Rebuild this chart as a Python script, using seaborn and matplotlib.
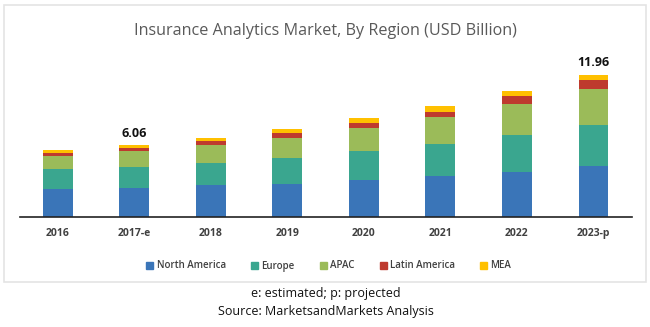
import matplotlib
matplotlib.use("Agg")
import matplotlib.pyplot as plt
import matplotlib.patches as mpatches
import seaborn as sns
import pandas as pd
import numpy as np

years = ["2016", "2017-e", "2018", "2019", "2020", "2021", "2022", "2023-p"]
regions = ["North America", "Europe", "APAC", "Latin America", "MEA"]
north_america = [2.35, 2.44, 2.66, 2.81, 3.11, 3.45, 3.82, 4.29]
europe = [1.65, 1.76, 1.87, 2.18, 2.47, 2.66, 3.08, 3.45]
apac = [1.12, 1.38, 1.55, 1.65, 1.90, 2.29, 2.58, 3.05]
latin_america = [0.25, 0.20, 0.34, 0.42, 0.42, 0.45, 0.65, 0.72]
mea = [0.28, 0.28, 0.22, 0.37, 0.42, 0.45, 0.45, 0.45]
labels = {1: "6.06", 7: "11.96"}
colors = ["#3a75b8", "#3aa68f", "#9bbb59", "#be3a2e", "#ffc000"]

sns.set_style("white")
plt.rcParams["font.family"] = ["Open Sans", "DejaVu Sans"]

series = [north_america, europe, apac, latin_america, mea]
df = pd.DataFrame({"year": years})
cum = np.zeros(len(years))
for name, vals in zip(regions, series):
    cum = cum + np.array(vals)
    df[name] = cum

fig = plt.figure(figsize=(6.5, 3.27), dpi=100)
# light border box
fig.patches.append(mpatches.Rectangle((4 / 650, 1 - 282 / 327), 642 / 650, 277 / 327,
                                      transform=fig.transFigure, fill=False,
                                      edgecolor="#e4e4e4", linewidth=1.2))
ax = fig.add_axes([19.5 / 650, 1 - 217 / 327, 612.2 / 650, 157 / 327])

for name, col in reversed(list(zip(regions, colors))):
    sns.barplot(data=df, x="year", y=name, color=col, width=0.39,
                saturation=1, ax=ax, order=years, linewidth=0)

ax.set_xlim(-0.5, 7.5)
ax.set_ylim(0, 13.19)
ax.set_xlabel("")
ax.set_ylabel("")
ax.set_yticks([])
for s in ["top", "left", "right"]:
    ax.spines[s].set_visible(False)
ax.spines["bottom"].set_color("#222222")
ax.spines["bottom"].set_linewidth(1.2)
ax.tick_params(axis="x", length=0, pad=8)
for t in ax.get_xticklabels():
    t.set_fontsize(7.5)
    t.set_fontweight("bold")
    t.set_color("#404040")

totals = df[regions[-1]].values
for i, txt in labels.items():
    ax.text(i, totals[i] + 0.45, txt, ha="center", va="bottom",
            fontsize=9, fontweight="bold", color="#111111")

fig.text(0.5, 1 - 31 / 327, "Insurance Analytics Market, By Region (USD Billion)",
         ha="center", va="center", fontsize=11.6, color="#595959")

handles = [mpatches.Patch(color=c, label=r) for r, c in zip(regions, colors)]
fig.legend(handles=handles, loc="center", bbox_to_anchor=(0.506, 1 - 266 / 327),
           ncol=5, frameon=False, handlelength=0.7, handleheight=0.7,
           handletextpad=0.35, columnspacing=2.6, labelcolor="#404040",
           prop={"weight": "semibold", "size": 7})

fig.text(0.502, 1 - 293 / 327, "e: estimated; p: projected", ha="center",
         va="center", fontsize=9, color="#111111")
fig.text(0.502, 1 - 311 / 327, "Source: MarketsandMarkets Analysis", ha="center",
         va="center", fontsize=9, color="#111111")

fig.savefig("out.png", dpi=100)
